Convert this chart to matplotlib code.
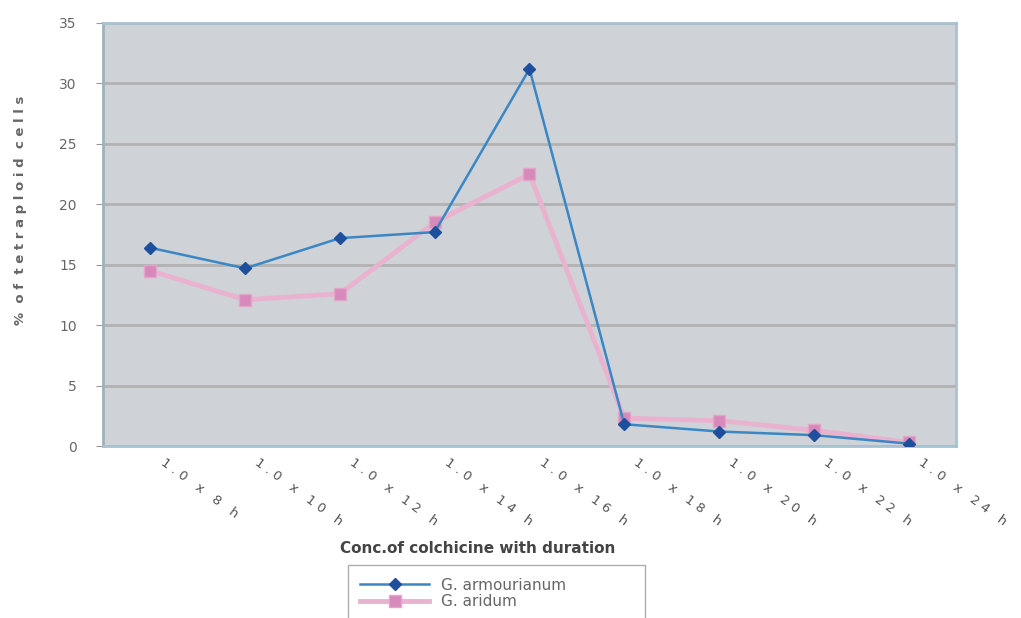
import matplotlib
matplotlib.use("Agg")
import matplotlib.pyplot as plt
import matplotlib.transforms as mtrans
import numpy as np

categories = ["1.0 x 8 h", "1.0 x 10 h", "1.0 x 12 h", "1.0 x 14 h", "1.0 x 16 h",
              "1.0 x 18 h", "1.0 x 20 h", "1.0 x 22 h", "1.0 x 24 h"]
armourianum = [16.4, 14.7, 17.2, 17.7, 31.2, 1.8, 1.2, 0.9, 0.2]
aridum = [14.5, 12.1, 12.6, 18.5, 22.5, 2.3, 2.1, 1.3, 0.3]
yticks = [0, 5, 10, 15, 20, 25, 30, 35]

fig = plt.figure(figsize=(10.21, 6.18), dpi=100)
ax = fig.add_axes([0.1009, 0.2783, 0.8354, 0.6845])
ax.set_facecolor("#cfd2d6")

x = np.arange(len(categories))
# pink series first so blue sits on top
ax.plot(x, aridum, color="#e9b3d0", lw=3.5, marker="s", ms=9,
        mfc="#d889bb", mec="#e3a6c9", label="G. aridum", zorder=3)
ax.plot(x, armourianum, color="#3a87c4", lw=1.8, marker="D", ms=6,
        mfc="#1d4f9c", mec="#1d4f9c", label="G. armourianum", zorder=4)

ax.set_xlim(-0.5, len(categories) - 0.5)
ax.set_ylim(0, 35)
ax.set_yticks(yticks)
ax.set_yticklabels([str(v) for v in yticks], color="#666666", fontsize=10)
ax.yaxis.grid(True, color="#b2b2b2", lw=2)
ax.set_axisbelow(True)
ax.tick_params(axis="y", length=5, color="#999999", pad=14)
ax.tick_params(axis="x", length=0, pad=10)

ax.set_xticks(x)
ax.set_xticklabels([" ".join(c) for c in categories], rotation=-36,
                   ha="left", va="top", rotation_mode="anchor",
                   color="#555555", fontsize=9.5)
shift = mtrans.ScaledTranslation(0.15, 0.04, fig.dpi_scale_trans)
for lab in ax.get_xticklabels():
    lab.set_transform(lab.get_transform() + shift)

for s in ["top", "right", "bottom", "left"]:
    ax.spines[s].set_color("#a5c3d2")
    ax.spines[s].set_linewidth(2)
ax.spines["left"].set_color("#9bb3bd")

fig.text(0.02, 0.66, " ".join("% of tetraploid cells").replace("   ", "  "),
         rotation=90, ha="center", va="center", fontsize=9.5,
         color="#666666", fontweight="bold")
fig.text(0.468, 0.112, "Conc.of colchicine with duration", ha="center",
         va="center", fontsize=11, fontweight="bold", color="#444444")

handles, labels = ax.get_legend_handles_labels()
leg = fig.legend(handles[::-1], labels[::-1], loc="upper left",
                 bbox_to_anchor=(0.341, 0.085, 0.291, 0.0), mode="expand",
                 borderaxespad=0, frameon=True, fancybox=False,
                 fontsize=11, handlelength=4.5, borderpad=0.8,
                 labelspacing=0.1, labelcolor="#666666")
leg.get_frame().set_edgecolor("#999999")
leg.get_frame().set_linewidth(1)

fig.savefig("out.png", dpi=100, facecolor="white")
